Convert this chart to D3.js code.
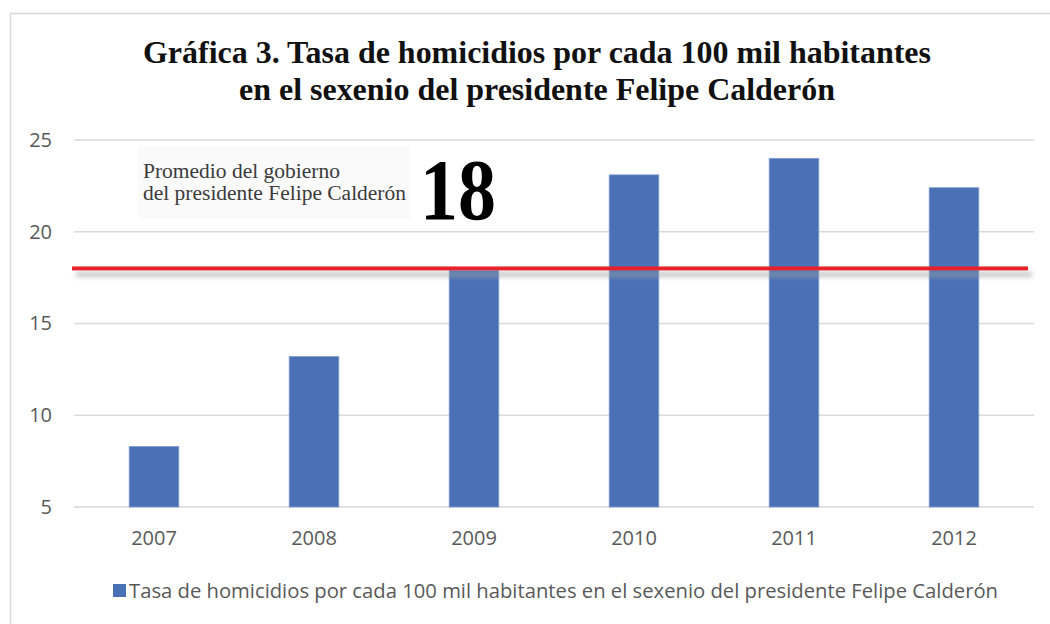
<!DOCTYPE html>
<html>
<head>
<meta charset="utf-8">
<script src="https://cdn.jsdelivr.net/npm/d3@7"></script>
<style>
	body { margin: 0; background: #fff; }
	svg { display: block; }
</style>
</head>
<body>
<svg id="chart" width="1050" height="624"></svg>
<script>
// data
const years = ["2007", "2008", "2009", "2010", "2011", "2012"];
const rates = [8.3, 13.2, 17.9, 23.1, 24.0, 22.4];
const average = 18;
const yTicks = [5, 10, 15, 20, 25];
const titleLines = [
	"Gráfica 3. Tasa de homicidios por cada 100 mil habitantes",
	"en el sexenio del presidente Felipe Calderón"
];
const noteLines = ["Promedio del gobierno", "del presidente Felipe Calderón"];
const seriesName = "Tasa de homicidios por cada 100 mil habitantes en el sexenio del presidente Felipe Calderón";

const svg = d3.select("#chart");
const margin = {left: 74, right: 16, top: 140, bottom: 117};
const width = 1050, height = 624;

const x = d3.scaleBand()
	.domain(years)
	.range([margin.left, width - margin.right])
	.paddingInner(0.69)
	.paddingOuter(0.345);

const y = d3.scaleLinear()
	.domain([5, 25])
	.range([height - margin.bottom, margin.top]);

// shadow for the red average line
const defs = svg.append("defs");
const shadow = defs.append("filter").attr("id", "shadow")
	.attr("filterUnits", "userSpaceOnUse")
	.attr("x", 0).attr("y", 240).attr("width", 1050).attr("height", 60);
shadow.append("feGaussianBlur").attr("in", "SourceAlpha").attr("stdDeviation", 2.5).attr("result", "blur");
shadow.append("feOffset").attr("in", "blur").attr("dx", 4).attr("dy", 6).attr("result", "off");
shadow.append("feColorMatrix").attr("in", "off").attr("type", "matrix")
	.attr("values", "0 0 0 0 0.35  0 0 0 0 0.35  0 0 0 0 0.35  0 0 0 0.75 0").attr("result", "sh");
const merge = shadow.append("feMerge");
merge.append("feMergeNode").attr("in", "sh");
merge.append("feMergeNode").attr("in", "SourceGraphic");

// chart area border
svg.append("rect")
	.attr("x", 10.5).attr("y", 13.5)
	.attr("width", 1100).attr("height", 700)
	.attr("fill", "#fff")
	.attr("stroke", "#d9d9d9")
	.attr("stroke-width", 1.5);

// title
svg.append("g").selectAll("text")
	.data(titleLines)
	.join("text")
	.attr("x", 537)
	.attr("y", (d, i) => 63 + i * 37)
	.attr("text-anchor", "middle")
	.attr("textLength", (d, i) => i === 0 ? 788 : 596)
	.attr("lengthAdjust", "spacingAndGlyphs")
	.style("font-family", "'Liberation Serif', 'Times New Roman', serif")
	.style("font-weight", "bold")
	.style("font-size", "32px")
	.style("fill", "#111")
	.text(d => d);

// gridlines
svg.append("g").selectAll("line")
	.data(yTicks)
	.join("line")
	.attr("x1", margin.left).attr("x2", width - margin.right)
	.attr("y1", d => y(d)).attr("y2", d => y(d))
	.attr("stroke", "#d9d9d9")
	.attr("stroke-width", 1.3);

// y axis labels
const yAxis = svg.append("g")
	.attr("transform", "translate(" + (margin.left - 22) + ",0)")
	.call(d3.axisLeft(y).tickValues(yTicks).tickSize(0).tickPadding(0));
yAxis.select(".domain").remove();
yAxis.selectAll("text")
	.style("font-family", "'Open Sans', sans-serif")
	.style("font-size", "20px")
	.style("fill", "#595959");

// x axis labels
const xAxis = svg.append("g")
	.attr("transform", "translate(0," + y(5) + ")")
	.call(d3.axisBottom(x).tickSize(0).tickPadding(24));
xAxis.select(".domain").remove();
xAxis.selectAll("text")
	.style("font-family", "'Open Sans', sans-serif")
	.style("font-size", "20px")
	.style("fill", "#595959");

// bars
svg.append("g").selectAll("rect")
	.data(rates)
	.join("rect")
	.attr("x", (d, i) => x(years[i]))
	.attr("y", d => y(d))
	.attr("width", x.bandwidth())
	.attr("height", d => y(5) - y(d))
	.attr("fill", "#4a71b6")
	.attr("stroke", "#7f9cd0")
	.attr("stroke-width", 0.8);

// average line
svg.append("rect")
	.attr("x", margin.left - 2)
	.attr("y", y(average) - 2)
	.attr("width", 1028 - margin.left + 2)
	.attr("height", 4)
	.attr("fill", "#e8202a")
	.attr("filter", "url(#shadow)");

// annotation box
const note = svg.append("g");
note.append("rect")
	.attr("x", 138).attr("y", 147)
	.attr("width", 272).attr("height", 72)
	.attr("fill", "#fafafa");
note.selectAll("text.note")
	.data(noteLines)
	.join("text")
	.attr("class", "note")
	.attr("x", 143)
	.attr("y", (d, i) => 177.5 + i * 22.5)
	.attr("textLength", (d, i) => i === 0 ? 197 : 263)
	.attr("lengthAdjust", "spacingAndGlyphs")
	.style("font-family", "'Liberation Serif', 'Times New Roman', serif")
	.style("font-size", "20px")
	.style("fill", "#3a3a3a")
	.text(d => d);
note.append("text")
	.attr("x", 420).attr("y", 219)
	.attr("textLength", 76)
	.attr("lengthAdjust", "spacingAndGlyphs")
	.style("font-family", "'Liberation Serif', 'Times New Roman', serif")
	.style("font-weight", "bold")
	.style("font-size", "86px")
	.style("fill", "#000")
	.text(average);

// legend
const legend = svg.append("g").attr("transform", "translate(113,591)");
legend.append("rect")
	.attr("x", 0).attr("y", -7)
	.attr("width", 13).attr("height", 13)
	.attr("fill", "#4a71b6");
legend.append("text")
	.attr("x", 16).attr("y", 0)
	.attr("dy", "0.35em")
	.attr("textLength", 869)
	.attr("lengthAdjust", "spacingAndGlyphs")
	.style("font-family", "'Open Sans', sans-serif")
	.style("font-size", "20px")
	.style("fill", "#595959")
	.text(seriesName);
</script>
</body>
</html>
